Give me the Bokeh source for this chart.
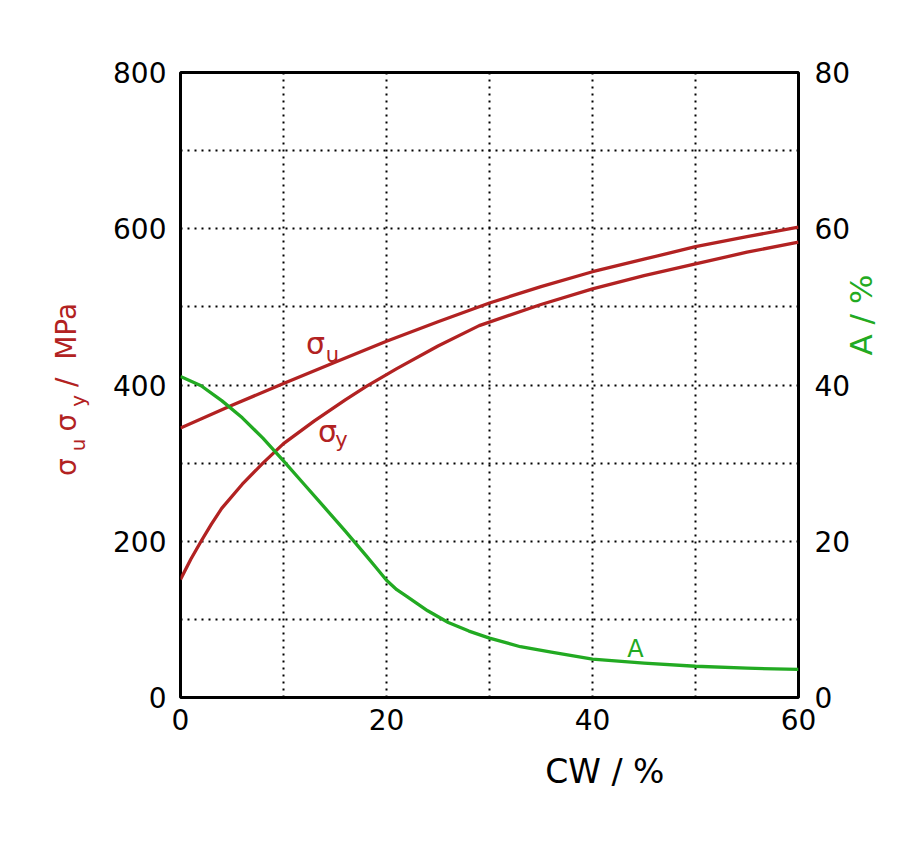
import math
from bokeh.plotting import figure
from bokeh.models import Range1d, LinearAxis, FixedTicker, Label
from bokeh.embed import file_html
from bokeh.resources import INLINE

# ---- data ----
cw_u = [0, 5, 10, 15, 20, 25, 30, 35, 40, 45, 50, 55, 60]
sigma_u = [345, 374, 402, 429, 456, 481, 505, 526, 545, 561, 577, 590, 602]

cw_y = [0, 1, 2, 3, 4, 6, 8, 10, 13, 16, 18, 21, 25, 29, 35, 40, 45, 50, 55, 60]
sigma_y = [151, 177, 200, 222, 242, 273, 300, 325, 354, 381, 398, 421, 450, 476, 503, 523, 540, 555, 570, 583]

cw_a = [0, 2, 4, 6, 8, 10, 12, 14, 16, 18, 19, 20, 21, 22, 24, 26, 28, 30, 33, 36, 40, 45, 50, 55, 60]
elong_a = [41.1, 39.9, 38.0, 35.8, 33.2, 30.3, 27.3, 24.3, 21.3, 18.2, 16.6, 15.0, 13.8, 12.9, 11.1, 9.6, 8.5,
           7.6, 6.5, 5.8, 4.9, 4.4, 4.0, 3.75, 3.6]

x_ticks = [0, 20, 40, 60]
x_grid = [10, 20, 30, 40, 50]
y_ticks = [0, 200, 400, 600, 800]
y_grid = [100, 200, 300, 400, 500, 600, 700]
a_ticks = [0, 20, 40, 60, 80]

RED = "#b22222"
GREEN = "#22aa22"
FONT = "DejaVu Sans"
NB = "\u00a0"

# frame geometry (pixels)
W, H = 900, 860
FL, FR, FT, FB = 180, 798, 72, 697

p = figure(width=W, height=H, x_range=Range1d(0, 60), y_range=Range1d(0, 800),
           output_backend="svg", toolbar_location=None,
           min_border_left=FL, min_border_right=W - FR,
           min_border_top=FT, min_border_bottom=H - FB)
p.background_fill_color = "white"
p.border_fill_color = "white"
p.outline_line_color = "black"
p.outline_line_width = 3

p.extra_y_ranges = {"A": Range1d(0, 80)}
right_axis = LinearAxis(y_range_name="A")
p.add_layout(right_axis, "right")

# outer left axis: carries only the main part of the left title
outer_left = LinearAxis(ticker=FixedTicker(ticks=[]))
p.add_layout(outer_left, "left")

for ax in [p.xaxis[0], p.yaxis[0], right_axis, outer_left]:
    ax.axis_line_color = None
    ax.major_tick_line_color = None
    ax.minor_tick_line_color = None
    ax.major_tick_out = 0
    ax.major_tick_in = 0
    ax.major_label_text_font = FONT
    ax.major_label_text_font_size = "28px"
    ax.major_label_text_color = "black"
    ax.axis_label_text_font = FONT
    ax.axis_label_text_font_style = "normal"

inner_left = p.yaxis[0]
p.xaxis[0].ticker = FixedTicker(ticks=x_ticks)
inner_left.ticker = FixedTicker(ticks=y_ticks)
right_axis.ticker = FixedTicker(ticks=a_ticks)
p.xaxis[0].major_label_standoff = 11
inner_left.major_label_standoff = 14
right_axis.major_label_standoff = 16

# bottom title
p.xaxis[0].axis_label = NB * 22 + "CW / %"
p.xaxis[0].axis_label_text_font_size = "33px"
p.xaxis[0].axis_label_text_color = "black"
p.xaxis[0].axis_label_standoff = 19

# right title (reads bottom to top)
right_axis.axis_label = NB * 3 + "A / %"
right_axis.axis_label_text_font_size = "31px"
right_axis.axis_label_text_color = GREEN
right_axis.axis_label_orientation = math.pi / 2
right_axis.axis_label_standoff = 8

# left title: subscripts on inner axis, main text on outer axis
inner_left.axis_label = "u" + NB * 5 + "y" + NB * 12
inner_left.axis_label_text_font_size = "20px"
inner_left.axis_label_text_color = RED
inner_left.axis_label_standoff = 20

outer_left.axis_label = "σ" + NB * 3 + "σ" + NB * 3 + "/" + NB * 2 + "MPa" + NB
outer_left.axis_label_text_font_size = "28px"
outer_left.axis_label_text_color = RED
outer_left.axis_label_standoff = -19
outer_left.major_label_text_font_size = "0px"
outer_left.major_label_standoff = 0

p.xgrid.ticker = FixedTicker(ticks=x_grid)
p.ygrid.ticker = FixedTicker(ticks=y_grid)
for g in [p.xgrid[0], p.ygrid[0]]:
    g.grid_line_color = "black"
    g.grid_line_dash = "2 5"
    g.grid_line_width = 2

p.line(cw_u, sigma_u, line_color=RED, line_width=3.3, line_join="round")
p.line(cw_y, sigma_y, line_color=RED, line_width=3.3, line_join="round")
p.line(cw_a, elong_a, line_color=GREEN, line_width=3.3, line_join="round", y_range_name="A")


def dx(px):
    return (px - FL) / (FR - FL) * 60


def dy(py):
    return (FB - py) / (FB - FT) * 800


def lab(px, py, text, size, color):
    p.add_layout(Label(x=dx(px), y=dy(py), text=text, text_font=FONT,
                       text_font_size=f"{size}px", text_color=color,
                       text_align="center", text_baseline="alphabetic"))


# in-plot curve labels
lab(315, 343, "σ", 30, RED)
lab(332, 354, "u", 21, RED)
lab(327, 431, "σ", 30, RED)
lab(341, 439, "y", 21, RED)
lab(635, 648, "A", 24, GREEN)

open("out.html", "w").write(file_html(p, INLINE))
